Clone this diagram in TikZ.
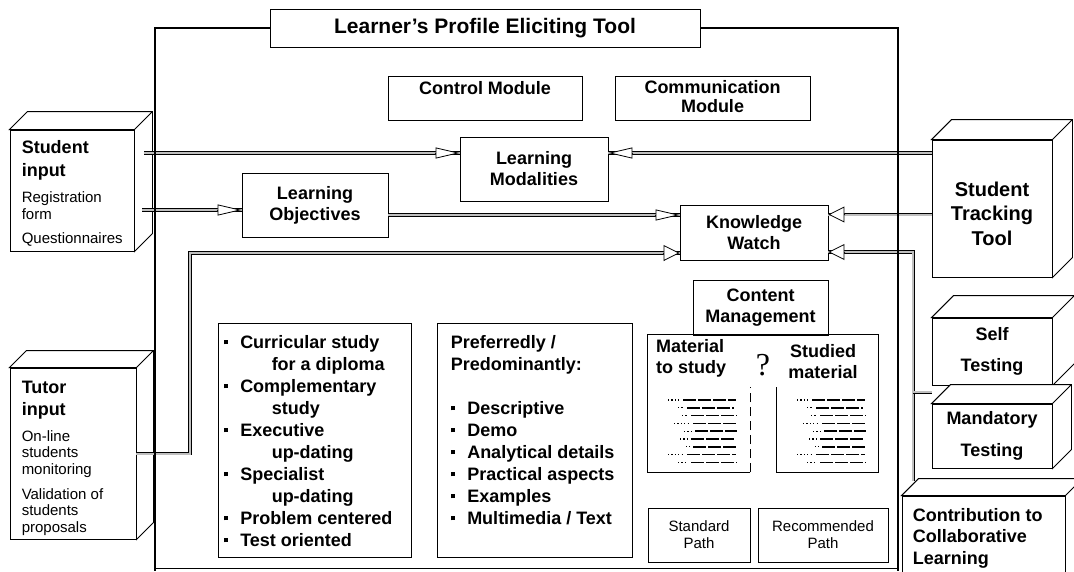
\documentclass[tikz,border=0pt]{standalone}
\usepackage{fontspec}
\setmainfont{Liberation Sans}
\newfontfamily\qfont{Liberation Serif}
\usetikzlibrary{arrows.meta, positioning}

\newcommand\bfs{\bfseries\fontsize{18}{21}\selectfont}
\newcommand\sms{\fontsize{15}{17}\selectfont}
\newcommand\sq{\rule[4pt]{4.5pt}{4.5pt}\hspace{12pt}}

\begin{document}
\begin{tikzpicture}[x=1pt, y=-1pt,
    every node/.style={inner sep=0pt, align=center, font=\bfs},
    box/.style={draw, line width=0.9pt, fill=white},
    frame/.style={line width=2.2pt},
    dbl/.style={line width=0.8pt, double=gray!50, double distance=2pt},
    tipn/.style={line width=0.8pt, -{Triangle[fill=white, length=24pt, width=11pt]}},
    tipw/.style={line width=0.8pt, -{Triangle[fill=white, length=16pt, width=16pt]}},
    dotrow/.style={line width=1.3pt, dash pattern=on 1.2pt off 2.2pt},
    dashrow/.style={line width=1.6pt, dash pattern=on 13pt off 2pt}]
  \useasboundingbox (0,0) rectangle (1074,571);
  \clip (0,0) rectangle (1074,571);

  % eliciting tool and its modules
  \node[box, minimum width=430pt, minimum height=38pt,
    font=\bfseries\fontsize{21}{24}\selectfont] (tt) at (485,28) {Learner’s Profile Eliciting Tool};
  \node[box, minimum width=194pt, minimum height=44pt] (ctl) at (485,98) {};
  \node[below=6pt of ctl.north] {Control Module};
  \node[box, minimum width=195pt, minimum height=44pt] (com) at (712.5,98) {};
  \node[below=5pt of com.north, font=\bfseries\fontsize{18}{19}\selectfont] {Communication\\Module};
  \node[box, minimum width=148pt, minimum height=64pt] (lm) at (534,169) {Learning\\Modalities};
  \node[box, minimum width=146pt, minimum height=64pt] (lo) at (315,205) {Learning\\Objectives};
  \node[box, minimum width=148pt, minimum height=55pt] (kw) at (754,232.5) {Knowledge\\Watch};

  % content management
  \node[box, minimum width=135pt, minimum height=55pt] (cmg) at (760.5,307.5) {Content\\Management};
  \node[minimum width=230pt, minimum height=137pt] (mat) at (763,403.5) {};
  \draw[line width=0.9pt] ([xshift=-13pt]mat.south) -- (mat.south west) -- (mat.north west)
    -- (mat.north east) -- (mat.south east) -- ([xshift=13pt]mat.south) -- ++(0,-85);
  \draw[line width=0.9pt, dash pattern=on 9pt off 5pt] ([xshift=-13pt]mat.south) -- ++(0,-85);
  \node[anchor=north west, align=left] (mts) at (656,339.5) {Material\\to study};
  \node (smt) at (823,362) {Studied\\material};
  \node[font=\qfont\fontsize{32}{32}\selectfont] (qm) at (763,365) {?};
  \foreach \ox in {668,797} {
    \foreach \r/\a/\b/\c in {0/0/12/68, 1/10/16/66, 2/14/20/69, 3/6/22/68,
        4/16/24/69, 5/12/20/67, 6/18/22/69, 7/0/16/68, 8/10/20/69} {
      \draw[dotrow] (\ox+\a, 400+7.8*\r) -- (\ox+\b, 400+7.8*\r);
      \draw[dashrow] (\ox+\b+3, 400+7.8*\r) -- (\ox+\c, 400+7.8*\r);
    }
  }
  \node[box, minimum width=102pt, minimum height=54pt, font=\sms] (sp) at (699,535) {Standard\\Path};
  \node[box, minimum width=130pt, minimum height=54pt, font=\sms] (rp) at (823,535) {Recommended\\Path};

  % goals and modes lists
  \node[box, minimum width=193pt, minimum height=234pt] (goals) at (314.5,440) {};
  \node[below right=12.5pt and 6pt of goals.north west, align=left,
    font=\bfseries\fontsize{18}{22}\selectfont] {\sq Curricular study\\
    \hspace*{48pt}for a diploma\\ \sq Complementary\\ \hspace*{48pt}study\\
    \sq Executive\\ \hspace*{48pt}up-dating\\ \sq Specialist\\ \hspace*{48pt}up-dating\\
    \sq Problem centered\\ \sq Test oriented};
  \node[box, minimum width=195pt, minimum height=234pt] (modes) at (534.5,440) {};
  \node[below right=12.5pt and 14pt of modes.north west, align=left,
    font=\bfseries\fontsize{18}{22}\selectfont] {Preferredly /\\ Predominantly:\\[22pt]
    \sq Descriptive\\ \sq Demo\\ \sq Analytical details\\ \sq Practical aspects\\
    \sq Examples\\ \sq Multimedia / Text};

  % inputs
  \node[box, minimum width=124pt, minimum height=121pt] (si) at (72,190.5) {};
  \node[below right=10.5pt and 12pt of si.north west, align=left,
    font=\bfseries\fontsize{18}{23}\selectfont] (sit) {Student\\input};
  \node[below right=61.5pt and 12pt of si.north west, align=left, font=\sms]
    {Registration\\form\\[7pt]Questionnaires};
  \node[box, minimum width=126pt, minimum height=171pt] (ti) at (73,453.5) {};
  \node[below right=13.6pt and 12pt of ti.north west, align=left,
    font=\bfseries\fontsize{18}{22}\selectfont] (tit) {Tutor\\input};
  \node[below right=62.4pt and 12pt of ti.north west, align=left,
    font=\fontsize{15}{16.5}\selectfont] {On-line\\students\\monitoring\\[8.5pt]Validation of\\students\\proposals};

  % tracking and testing
  \node[box, minimum width=120pt, minimum height=137pt] (stt) at (992,208.5) {};
  \node[font=\bfseries\fontsize{20}{24.5}\selectfont] at ([yshift=-5pt]stt.center) {Student\\Tracking\\Tool};
  \node[box, minimum width=120pt, minimum height=67pt,
    font=\bfseries\fontsize{18}{31}\selectfont] (st) at (992,351.5) {Self\\Testing};
  \node[box, minimum width=120pt, minimum height=64pt,
    font=\bfseries\fontsize{18}{32}\selectfont] (mt) at (992,436) {Mandatory\\Testing};
  \node[box, minimum width=163pt, minimum height=110pt] (cc) at (983.5,551) {};
  \node[below right=12.4pt and 11pt of cc.north west, align=left,
    font=\bfseries\fontsize{18}{21.5}\selectfont] {Contribution to\\Collaborative\\Learning};

  % top and side faces of the boxes
  \foreach \n/\d in {si/18, ti/17, stt/20, st/22, mt/19, cc/17}
    \filldraw[fill=white, line width=0.9pt] (\n.north west) -- ++(\d,-\d)
      -- ([shift={(\d,-\d)}]\n.north east) -- ([shift={(\d,-\d)}]\n.south east)
      -- (\n.south east) -- (\n.north east) -- cycle
      (\n.north east) -- ++(\d,-\d);

  % connectors
  \coordinate (lmin) at ([yshift=16pt]lm.west);
  \coordinate (lmout) at ([yshift=16pt]lm.east);
  \coordinate (loin) at ([yshift=-5pt]lo.west);
  \coordinate (kwin) at ([yshift=17.5pt]kw.west);
  \coordinate (kwlow) at ([yshift=-20.5pt]kw.west);
  \coordinate (kwout) at ([yshift=18pt]kw.east);
  \coordinate (kwback) at ([yshift=-19.5pt]kw.east);
  \coordinate (tbend) at (190,253);
  \coordinate (bus) at ([xshift=85pt]kwback);
  \draw[dbl] ([xshift=10pt]si.east |- lmin) -- (lmin);
  \draw[dbl] ([xshift=8pt]si.east |- loin) -- (loin);
  \draw[dbl] (lo.east |- kwin) -- (kwin);
  \draw[dbl] (ti.east) -| (tbend) -- (kwlow);
  \draw[dbl] (stt.west |- lmout) -- (lmout);
  \draw[dbl] (stt.west |- kwout) -- (kwout);
  \draw[dbl] ([yshift=15pt]bus |- cc.north) -- (bus) -- (kwback);
  \draw[dbl] ([yshift=-7pt]bus |- st.south) -- ([yshift=-7pt]st.south west);

  % outline of the eliciting tool
  \draw[frame] (tt.west) -| (155,571);
  \draw[frame] (tt.east) -| (898,571);
  \draw[line width=0.8pt] (155,568) -- (898,568);

  % arrow tips
  \draw[tipn] ([xshift=-25pt]lmin) -- (lmin);
  \draw[tipn] ([xshift=-25pt]loin) -- (loin);
  \draw[tipn] ([xshift=-25pt]kwin) -- (kwin);
  \draw[tipw] ([xshift=-17pt]kwlow) -- (kwlow);
  \draw[tipn] ([xshift=25pt]lmout) -- (lmout);
  \draw[tipw] ([xshift=17pt]kwout) -- (kwout);
  \draw[tipw] ([xshift=17pt]kwback) -- (kwback);
\end{tikzpicture}
\end{document}
